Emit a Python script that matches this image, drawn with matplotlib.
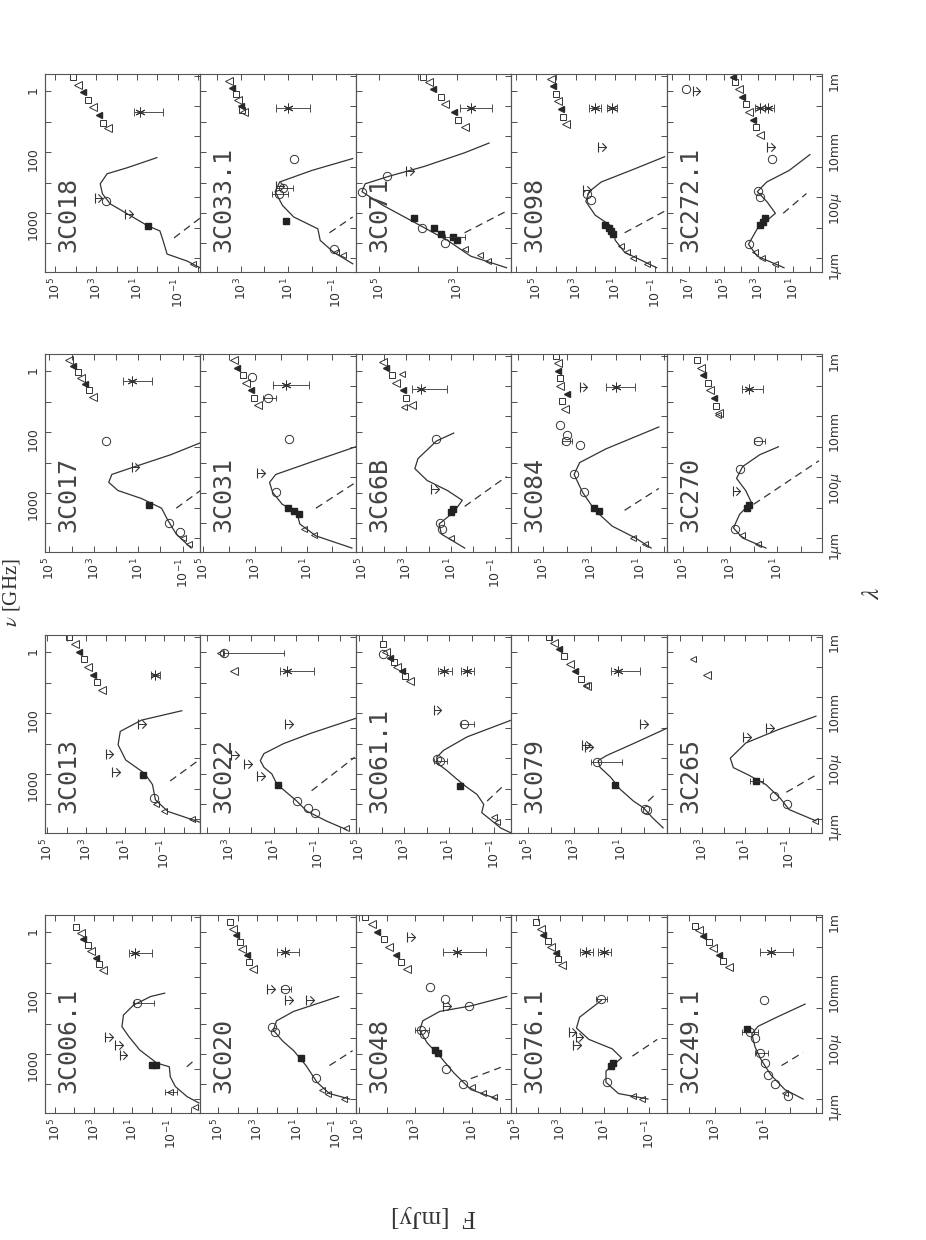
import numpy as np
import matplotlib
matplotlib.use("Agg")
import matplotlib.pyplot as plt
from matplotlib.path import Path
from matplotlib.ticker import NullLocator

plt.rcParams['font.family'] = ['DejaVu Sans']
plt.rcParams['mathtext.fontset'] = 'dejavusans'

# panels, top band to bottom band, left to right (page is turned 90 deg)
NAMES = ['3C018', '3C033.1', '3C071', '3C098', '3C272.1',
         '3C017', '3C031', '3C66B', '3C084', '3C270',
         '3C013', '3C022', '3C061.1', '3C079', '3C265',
         '3C006.1', '3C020', '3C048', '3C076.1', '3C249.1']

# log10 F [mJy] at the left (high) and right (low) edge of each panel
FLUX_LEFT = [5.5, 4.7, 5.6, 6.25, 8.3, 5.2, 5.1, 5.3, 6.3, 5.7,
             5.1, 4.3, 5.15, 5.7, 4.6, 5.5, 5.9, 5.1, 5.2, 4.9]
FLUX_RIGHT = [-2.1, -1.85, 1.6, -1.6, -0.7, -1.8, -0.9, -1.75, -0.1, -0.9,
              -2.85, -2.7, -1.75, -0.95, -2.5, -2.5, -2.0, -0.4, -1.8, -1.25]
FLUX_LABELLED = [[5, 3, 1, -1], [3, 1, -1], [5, 3], [5, 3, 1, -1], [7, 5, 3, 1],
                 [5, 3, 1, -1], [5, 3, 1], [5, 3, 1, -1], [5, 3, 1], [5, 3, 1],
                 [5, 3, 1, -1], [3, 1, -1], [5, 3, 1, -1], [5, 3, 1], [3, 1, -1],
                 [5, 3, 1, -1], [5, 3, 1, -1], [5, 3, 1], [5, 3, 1, -1], [3, 1]]

LAM_TICKS = [1, 10, 100, 1e3, 1e4, 1e5, 1e6]          # micron
LAM_LABELS = ['1$\\mu$m', '', '100$\\mu$', '', '10mm', '', '1m']
NU_TICKS = [1, 10, 100, 1e3, 1e4, 1e5]                 # GHz
NU_LABELS = ['1', '', '100', '', '1000', '']

# all points below are [log10 lambda (micron), log10 F (mJy)]
MODEL = [
    [[-0.33, -2.1], [-0.1, -1.45], [0.13, -0.47], [0.56, -0.28], [0.89, -0.12], [1.06, 0.48], [1.45, 1.47],
     [1.78, 2.31], [2.11, 2.69], [2.44, 2.8], [2.77, 2.46], [2.97, 1.47], [3.3, 0.03]],
    [[-0.19, -1.72], [0.2, -0.9], [0.58, -0.35], [0.96, -0.25], [1.35, 0.77], [1.73, 1.24], [2.18, 1.55],
     [2.5, 1.36], [2.88, 0.0], [3.27, -1.72]],
    [[-0.32, 1.72], [0.06, 2.64], [0.58, 3.24], [1.22, 4.16], [1.73, 4.9], [2.18, 5.44], [2.44, 5.36],
     [2.69, 4.74], [3.01, 3.84], [3.46, 2.8], [3.78, 2.17]],
    [[-0.32, -1.1], [0.19, 0.52], [0.58, 0.99], [1.03, 1.15], [1.41, 2.01], [1.86, 2.48], [2.18, 2.32],
     [2.5, 1.7], [2.88, 0.21], [3.33, -1.5]],
    [[-0.32, 1.5], [0.06, 3.05], [0.45, 3.56], [0.96, 3.05], [1.47, 2.0], [1.86, 2.5], [2.18, 3.05],
     [2.5, 2.5], [2.88, 1.2], [3.4, 0.0]],
    [[-0.33, -1.38], [0.13, -0.71], [0.59, -0.33], [0.98, -0.05], [1.3, 0.86], [1.56, 1.91], [1.83, 2.33],
     [2.09, 2.19], [2.35, 1.14], [2.74, -0.47], [3.13, -1.8]],
    [[-0.33, -0.75], [0.07, 0.64], [0.46, 1.26], [0.85, 1.38], [1.11, 1.94], [1.5, 2.31], [1.83, 2.43],
     [2.09, 2.19], [2.48, 0.88], [3.0, -0.9]],
    [[-0.33, 0.36], [0.13, 1.42], [0.46, 1.52], [0.85, 0.86], [1.24, 0.47], [1.56, 1.14], [1.89, 2.06],
     [2.28, 2.62], [2.61, 2.48], [3.19, 1.64], [3.45, 0.86]],
    [[-0.33, 0.54], [0.0, 1.18], [0.39, 2.14], [0.91, 2.85], [1.5, 3.36], [2.09, 3.71], [2.48, 3.48],
     [2.93, 2.4], [3.65, 0.22]],
    [[-0.33, 1.48], [0.0, 2.47], [0.33, 2.86], [0.78, 2.6], [1.17, 2.1], [1.56, 2.34], [1.96, 2.73],
     [2.35, 2.47], [2.74, 1.74], [3.0, 0.95]],
    [[-0.1, -2.8], [0.25, -1.18], [0.63, -0.55], [1.13, -0.4], [1.5, 0.0], [1.94, 0.97], [2.44, 1.36],
     [2.88, 1.25], [3.25, 0.17], [3.56, -1.9]],
    [[-0.35, -2.28], [-0.07, -1.39], [0.26, -0.49], [0.59, -0.04], [1.15, 0.86], [1.48, 1.08], [1.7, 1.44],
     [1.92, 1.6], [2.15, 1.44], [2.48, 0.55], [2.81, -0.64], [3.14, -2.0], [3.31, -2.7]],
    [[-0.46, -1.75], [-0.29, -1.27], [-0.02, -0.83], [0.21, -0.44], [0.48, -0.53], [0.81, -0.23], [1.04, 0.21],
     [1.31, 0.66], [1.59, 1.1], [1.81, 1.49], [2.03, 1.56], [2.26, 1.25], [2.7, 0.21], [3.25, -1.75]],
    [[-0.29, -0.8], [0.04, -0.35], [0.37, 0.04], [0.59, 0.47], [0.98, 1.04], [1.37, 1.44], [1.7, 1.9],
     [1.92, 1.98], [2.09, 1.61], [2.48, 0.47], [2.98, -0.95]],
    [[-0.06, -2.22], [0.31, -1.0], [0.69, -0.58], [1.13, 0.06], [1.44, 0.84], [1.69, 1.55], [2.0, 1.69],
     [2.5, 0.98], [2.94, -0.51], [3.38, -2.22]],
    [[-0.13, -2.42], [0.08, -1.81], [0.41, -1.21], [0.73, -0.95], [1.06, -0.9], [1.18, -0.26], [1.61, 0.62],
     [2.05, 1.18], [2.38, 1.54], [2.76, 1.46], [3.09, 0.94], [3.37, 0.06], [3.48, -0.66]],
    [[0.0, -1.68], [0.18, -0.66], [0.55, -0.03], [1.1, 0.53], [1.59, 1.16], [1.9, 1.71], [2.26, 2.19],
     [2.57, 2.03], [2.88, 1.16], [3.37, -1.13]],
    [[0.0, 0.09], [0.31, 1.03], [0.86, 1.63], [1.41, 2.13], [1.84, 2.57], [2.26, 2.84], [2.57, 2.73],
     [2.88, 2.13], [3.06, 1.03], [3.37, -0.24]],
    [[0.0, -0.96], [0.18, 0.37], [0.55, 0.93], [0.92, 0.93], [1.35, 0.23], [1.65, 0.65], [1.96, 1.7],
     [2.33, 2.26], [2.69, 2.12], [3.24, 1.14]],
    [[0.0, -0.5], [0.31, 0.22], [0.8, 0.78], [1.29, 1.16], [1.71, 1.4], [2.14, 1.53], [2.39, 1.28],
     [2.69, 0.54], [3.12, -0.58]],
]

STARLIGHT = [
    [[0.66, -0.81], [1.32, -2.1]], [[0.83, -0.74], [1.35, -1.72]], [[0.83, 2.8], [1.54, 1.72]],
    [[0.83, 0.52], [1.54, -1.5]], [[1.47, 1.55], [2.12, 0.2]],
    [[0.98, -0.71], [1.56, -1.8]], [[0.98, 0.64], [1.83, -0.9]], [[1.04, 0.36], [2.02, -1.54]],
    [[0.91, 1.63], [1.63, 0.22]], [[1.11, 2.0], [2.54, -0.77]],
    [[1.25, -1.3], [1.88, -2.65]], [[0.93, -0.71], [2.03, -2.65]], [[0.59, -0.68], [1.09, -1.4]],
    [[0.59, -0.16], [0.87, -0.55]], [[0.88, -0.87], [1.5, -2.36]],
    [[1.06, -1.8], [1.28, -2.2]], [[1.1, -0.66], [1.59, -1.84]], [[0.67, 1.03], [1.04, -0.03]],
    [[1.41, -0.26], [1.96, -1.38]], [[1.1, 0.35], [1.53, -0.5]],
]

RADIO = [
    [[4.26, 2.44], [4.45, 2.66], [4.7, 2.88], [4.95, 3.15], [5.2, 3.38], [5.45, 3.65], [5.7, 3.88], [5.94, 4.12]],
    [[4.8, 2.86], [4.85, 2.95], [5.0, 2.98], [5.2, 3.1], [5.4, 3.2], [5.6, 3.35], [5.83, 3.48]],
    [[4.3, 2.8], [4.55, 2.97], [4.8, 3.08], [5.05, 3.3], [5.3, 3.41], [5.55, 3.62], [5.8, 3.72], [5.96, 3.86]],
    [[4.42, 3.5], [4.65, 3.62], [4.9, 3.73], [5.15, 3.88], [5.4, 3.98], [5.65, 4.14], [5.9, 4.25]],
    [[4.04, 2.9], [4.3, 3.12], [4.55, 3.28], [4.8, 3.52], [5.05, 3.7], [5.3, 3.92], [5.55, 4.08], [5.8, 4.32],
     [5.96, 4.43]],
    [[4.63, 3.02], [4.85, 3.22], [5.05, 3.38], [5.25, 3.6], [5.45, 3.73], [5.65, 3.94], [5.85, 4.1]],
    [[4.37, 2.87], [4.6, 3.02], [4.85, 3.15], [5.1, 3.35], [5.35, 3.46], [5.6, 3.67], [5.85, 3.8]],
    [[4.37, 2.76], [4.6, 3.0], [4.85, 3.18], [5.1, 3.46], [5.35, 3.66], [5.6, 3.92], [5.8, 4.08]],
    [[4.24, 4.1], [4.5, 4.22], [4.75, 4.02], [5.0, 4.27], [5.25, 4.3], [5.5, 4.38], [5.75, 4.38], [6.0, 4.47]],
    [[4.1, 3.46], [4.35, 3.62], [4.6, 3.7], [4.85, 3.87], [5.1, 3.96], [5.35, 4.14], [5.6, 4.23], [5.85, 4.4]],
    [[4.25, 2.16], [4.5, 2.42], [4.75, 2.63], [5.0, 2.9], [5.25, 3.1], [5.5, 3.37], [5.75, 3.58], [6.0, 3.85]],
    [[4.86, 2.8]],
    [[4.53, 2.74], [4.7, 2.95], [4.85, 3.1], [5.0, 3.3], [5.15, 3.45], [5.3, 3.62], [5.5, 3.8], [5.75, 3.93]],
    [[4.36, 2.46], [4.6, 2.7], [4.85, 2.95], [5.1, 3.2], [5.35, 3.45], [5.6, 3.65], [5.8, 3.88], [6.0, 4.1]],
    [[4.75, 2.75]],
    [[4.24, 2.49], [4.45, 2.72], [4.65, 2.88], [4.85, 3.12], [5.05, 3.28], [5.25, 3.52], [5.45, 3.66], [5.67, 3.9]],
    [[4.28, 3.22], [4.5, 3.42], [4.72, 3.55], [4.94, 3.76], [5.16, 3.88], [5.38, 4.09], [5.6, 4.22], [5.81, 4.4]],
    [[4.28, 3.29], [4.5, 3.5], [4.75, 3.68], [5.0, 3.92], [5.25, 4.1], [5.5, 4.36], [5.75, 4.53], [6.0, 4.77]],
    [[4.41, 2.89], [4.6, 3.07], [4.8, 3.2], [5.0, 3.41], [5.2, 3.54], [5.4, 3.75], [5.6, 3.88], [5.81, 4.08]],
    [[4.35, 2.45], [4.55, 2.67], [4.75, 2.82], [4.95, 3.06], [5.15, 3.21], [5.35, 3.45], [5.55, 3.6], [5.69, 3.76]],
]

# [log lambda, log F, log F of bar end at high flux, log F of bar end at low flux]
CORE = [
    [[4.79, 0.86, 1.17, -0.28]], [[4.94, 1.0, 1.5, 0.1]], [[4.94, 2.64, 2.92, 2.1]],
    [[4.94, 2.0, 2.3, 1.7], [4.94, 1.15, 1.4, 0.9]], [[4.94, 2.9, 3.2, 2.6], [4.94, 2.4, 2.6, 2.1]],
    [[5.15, 1.28, 1.7, 0.37]], [[5.02, 1.8, 2.3, 0.9]], [[4.89, 2.34, 2.76, 1.14]],
    [[4.95, 2.0, 2.4, 1.2]], [[4.89, 2.2, 2.5, 1.6]],
    [[4.75, -0.55, -0.3, -0.8]], [[4.86, 0.41, 0.72, -0.8]], [[4.86, 1.25, 1.5, 0.9], [4.86, 0.21, 0.5, -0.1]],
    [[4.86, 1.11, 1.45, 0.2]], [],
    [[4.79, 0.86, 1.2, 0.0]], [[4.83, 1.6, 2.0, 0.9]], [[4.83, 1.53, 2.0, 0.5]],
    [[4.83, 1.84, 2.1, 1.5], [4.83, 1.0, 1.3, 0.7]], [[4.83, 0.78, 1.2, -0.1]],
]

CIRCLES = [
    [[1.88, 2.54]], [[3.27, 0.77], [2.1, 1.4], [2.3, 1.2], [0.3, -0.95]],
    [[2.18, 5.44], [2.69, 4.8], [1.0, 3.9], [0.5, 3.3]], [[2.1, 2.4], [1.9, 2.2]],
    [[5.55, 7.2], [3.27, 2.2], [0.45, 3.5], [2.2, 3.0], [2.0, 2.9]],
    [[3.19, 2.47], [0.5, -0.4], [0.2, -0.9]], [[3.26, 1.69], [1.5, 2.2], [4.6, 2.5], [5.3, 3.1]],
    [[3.26, 1.64], [0.5, 1.5], [0.3, 1.4]],
    [[3.7, 4.3], [3.2, 4.06], [3.06, 3.48], [3.4, 4.0], [2.1, 3.7], [1.5, 3.3]],
    [[2.28, 2.6], [3.19, 1.8], [0.3, 2.8]],
    [[0.7, -0.5]], [[5.45, 3.25], [0.59, -0.04], [0.37, -0.56], [0.2, -0.88]],
    [[5.42, 3.93], [3.14, 0.36], [1.98, 1.56], [1.9, 1.4]], [[1.87, 2.04], [0.32, -0.02], [0.28, -0.1]],
    [[0.75, -0.3], [0.5, -0.9]],
    [[3.15, 0.78]], [[3.61, 1.6], [2.38, 2.25], [2.2, 2.1], [0.68, 0.0]],
    [[3.67, 2.46], [3.3, 1.96], [2.26, 2.8], [2.15, 2.7], [1.0, 1.9], [0.5, 1.3], [3.06, 1.1]],
    [[3.3, 1.14], [0.55, 0.9]],
    [[3.24, 1.03], [2.2, 1.6], [2.0, 1.4], [1.5, 1.2], [1.2, 1.0], [0.8, 0.9], [0.5, 0.6], [0.1, 0.1]],
]

SQUARES = [
    [[1.06, 0.48]], [[1.22, 1.1]], [[1.0, 3.6], [0.8, 3.4], [0.7, 3.1], [0.6, 3.0], [1.3, 4.1]],
    [[1.0, 1.3], [0.9, 1.2], [0.8, 1.1], [1.1, 1.5]], [[1.3, 2.6], [1.1, 2.9], [1.2, 2.7]],
    [[1.1, 0.5]], [[0.9, 1.5], [1.0, 1.7], [0.8, 1.3]], [[0.85, 1.0], [0.95, 0.9]],
    [[0.9, 2.7], [1.0, 2.9]], [[1.1, 2.2], [1.0, 2.3]],
    [[1.44, 0.1]], [[1.13, 0.8]], [[1.09, 0.51]], [[1.13, 1.25]], [[1.25, 0.5]],
    [[1.12, 0.0], [1.12, -0.2]], [[1.35, 0.8]], [[1.6, 2.3], [1.5, 2.2]], [[1.2, 0.6], [1.1, 0.7]],
    [[2.3, 1.7]],
]

TRIANGLES = [
    [[-0.2, -1.72]], [[0.2, -1.0], [0.1, -1.3]], [[0.3, 2.8], [0.1, 2.4], [-0.1, 2.2]],
    [[0.4, 0.7], [0.2, 0.4], [0.0, 0.1], [-0.2, -0.6]], [[0.2, 3.2], [0.0, 2.8], [-0.2, 2.0]],
    [[0.0, -1.0], [-0.2, -1.3]], [[0.3, 1.1], [0.1, 0.7]], [[0.0, 1.0], [4.3, 3.1], [5.4, 3.2]],
    [[0.0, 1.3], [-0.2, 0.8]], [[0.1, 2.5], [-0.2, 1.8], [4.04, 3.5]],
    [[0.5, -0.6], [0.25, -1.0], [0.0, -2.4]], [[5.45, 3.4], [-0.3, -2.28]], [[0.07, -0.97], [-0.1, -1.1]],
    [[4.4, 2.5]], [[5.25, 3.4], [-0.06, -2.2]],
    [[0.24, -0.95], [-0.25, -2.2]], [[0.18, -0.6], [0.0, -1.4], [0.3, -0.3]],
    [[0.2, 0.6], [0.05, 0.2], [0.4, 1.0]], [[0.1, -0.3], [0.0, -0.7]], [[0.2, 0.2]],
]

UPPER_LIMITS = [
    [[1.98, 3.07], [1.45, 1.6]], [[2.37, 1.5]], [[2.85, 4.3]], [[3.65, 1.85], [2.25, 2.6]],
    [[5.5, 6.8], [3.65, 2.5]],
    [[2.35, 1.3]], [[2.15, 2.9]], [[1.62, 1.9]], [[4.95, 3.48]], [[1.56, 2.9]],
    [[1.56, 1.68], [2.13, 2.0], [3.13, 0.33]], [[3.14, 0.49], [2.09, 2.9], [1.81, 2.34], [1.42, 1.76]],
    [[3.59, 1.7]], [[3.14, 0.19], [2.42, 2.67], [2.38, 2.55]], [[2.69, 1.12], [3.0, 0.06]],
    [[2.05, 2.4], [1.78, 1.9], [1.45, 1.66]], [[3.61, 2.5], [3.24, 1.6], [3.24, 0.53]],
    [[5.32, 3.29], [3.06, 2.0]], [[2.21, 2.61], [2.03, 2.3], [1.78, 2.4]], [],
]

# flux error bars on single points: [log lambda, log F high end, log F low end]
ERROR_BARS = [
    [], [[2.1, 1.7, 1.0], [2.3, 1.5, 0.8]], [[0.7, 3.3, 2.8]], [], [],
    [], [[4.6, 2.7, 2.2]], [], [[3.2, 4.2, 3.8]], [[3.19, 2.0, 1.5]],
    [], [[5.45, 3.25, 0.55]], [[3.14, 0.5, -0.1], [1.9, 1.7, 1.1]], [[1.87, 2.3, 0.97]], [[1.25, 0.8, 0.2]],
    [[3.15, 0.9, -0.1], [0.24, -0.7, -1.3]], [[3.61, 1.8, 1.3]], [[2.26, 3.0, 2.5]], [[3.3, 1.4, 0.9]],
    [[2.2, 1.9, 1.3], [1.5, 1.4, 0.9]],
]

W, H = 926, 1240
X0, PANEL_W, PANEL_H = 45, 155.4, 198
BAND_TOPS = [74, 354, 635, 915]
INK = '#333333'
ARROW = Path([(-1, 1), (0, 0), (-1, -1)], [Path.MOVETO, Path.LINETO, Path.LINETO])


def unlog(rows):
    a = np.array(rows, dtype=float).reshape(-1, 2)
    return np.power(10.0, a[:, 1]), np.power(10.0, a[:, 0])


def lam_to_nu(lam):
    return 3e5 / lam


fig = plt.figure(figsize=(W / 100, H / 100), dpi=100)

for i, name in enumerate(NAMES):
    band, col = divmod(i, 5)
    rect = [(X0 + col * PANEL_W) / W, 1 - (BAND_TOPS[band] + PANEL_H) / H, PANEL_W / W, PANEL_H / H]
    ax = fig.add_axes(rect)
    ax.set_xscale('log')
    ax.set_yscale('log')
    ax.set_xlim(10 ** FLUX_LEFT[i], 10 ** FLUX_RIGHT[i])
    ax.set_ylim(10 ** -0.46, 10 ** 6.05)

    f, l = unlog(MODEL[i])
    ax.plot(f, l, color=INK, lw=0.9)
    f, l = unlog(STARLIGHT[i])
    ax.plot(f, l, color=INK, lw=0.9, dashes=(6, 4))

    # radio points: a mix of open triangles, open squares and filled triangles
    f, l = unlog(RADIO[i])
    ax.plot(f[::3], l[::3], ls='none', marker='<', ms=5.5, mfc='none', mec=INK, mew=0.7)
    ax.plot(f[1::3], l[1::3], ls='none', marker='s', ms=4.5, mfc='none', mec=INK, mew=0.7)
    ax.plot(f[2::3], l[2::3], ls='none', marker='<', ms=5, color='#2a2a2a')

    f, l = unlog(CIRCLES[i])
    ax.plot(f, l, ls='none', marker='o', ms=6, mfc='none', mec=INK, mew=0.7)
    f, l = unlog(SQUARES[i])
    ax.plot(f, l, ls='none', marker='s', ms=4, color='#222222')
    f, l = unlog(TRIANGLES[i])
    ax.plot(f, l, ls='none', marker='<', ms=5, mfc='none', mec=INK, mew=0.7)

    for lam, hi, lo in ERROR_BARS[i]:
        ax.plot([10 ** hi, 10 ** lo], [10 ** lam] * 2, color=INK, lw=0.6)
        ax.plot([10 ** hi, 10 ** lo], [10 ** lam] * 2, ls='none', marker='|', ms=4, color=INK, mew=0.6)

    for lam, fl, hi, lo in CORE[i]:
        ax.errorbar(10 ** fl, 10 ** lam, xerr=[[10 ** fl - 10 ** lo], [10 ** hi - 10 ** fl]],
                    fmt='none', ecolor=INK, elinewidth=0.6, capsize=3, capthick=0.6)
        ax.plot(10 ** fl, 10 ** lam, marker=(6, 2, 0), ms=7, color=INK, mew=0.7)

    for lam, fl in UPPER_LIMITS[i]:
        tip = fl - 0.4 * (FLUX_LEFT[i] - FLUX_RIGHT[i]) / 8
        ax.plot([10 ** fl, 10 ** tip], [10 ** lam] * 2, color=INK, lw=0.7)
        ax.plot(10 ** fl, 10 ** lam, marker='|', ms=7, color=INK, mew=0.8)
        ax.plot(10 ** tip, 10 ** lam, marker=ARROW, ms=6, mfc='none', mec=INK, mew=0.8)

    ax.text(0.15, 0.1, name, transform=ax.transAxes, rotation=90, ha='center', va='bottom',
            fontsize=18, family='DejaVu Sans Mono', color='#444444')

    # flux axis (bottom, with ticks on top too)
    decades = range(int(np.ceil(FLUX_RIGHT[i])), int(np.floor(FLUX_LEFT[i])) + 1)
    ax.set_xticks([10.0 ** k for k in decades],
                  ['$10^{%d}$' % k if k in FLUX_LABELLED[i] else '' for k in decades])
    ax.xaxis.set_minor_locator(NullLocator())
    ax.tick_params(axis='x', which='major', direction='in', top=True, bottom=True, length=4,
                   width=0.6, color=INK, labelsize=9, labelcolor=INK, labelrotation=90, pad=4)

    # wavelength axis on the right
    ax.yaxis.tick_right()
    ax.set_yticks(LAM_TICKS, LAM_LABELS if col == 4 else [''] * len(LAM_TICKS))
    ax.yaxis.set_minor_locator(NullLocator())
    ax.tick_params(axis='y', which='major', direction='in', left=False, right=True,
                   labelright=(col == 4), length=4, width=0.6, color=INK, labelsize=9,
                   labelcolor=INK, labelrotation=90, pad=4)

    # frequency axis on the left
    sec = ax.secondary_yaxis('left', functions=(lam_to_nu, lam_to_nu))
    sec.set_yticks(NU_TICKS, NU_LABELS if col == 0 else [''] * len(NU_TICKS))
    sec.yaxis.set_minor_locator(NullLocator())
    sec.tick_params(axis='y', which='major', direction='in', length=4, width=0.6, color=INK,
                    labelsize=9, labelcolor=INK, labelrotation=90, pad=4)

    for sp in list(ax.spines.values()) + [sec.spines['left']]:
        sp.set_color('#555555')
        sp.set_linewidth(0.8)

fig.text(12 / W, 1 - 593 / H, r'$\nu$ [GHz]', rotation=90, ha='center', va='center',
         fontsize=15, family='Liberation Serif', math_fontfamily='stix', color=INK)
fig.text(872 / W, 1 - 593 / H, r'$\lambda$', rotation=90, ha='center', va='center',
         fontsize=18, math_fontfamily='stix', color=INK)
fig.text(434 / W, 1 - 1216 / H, 'F  [mJy]', rotation=180, ha='center', va='center',
         fontsize=18, family='Liberation Serif', color=INK)

fig.savefig('out.png', dpi=100)
